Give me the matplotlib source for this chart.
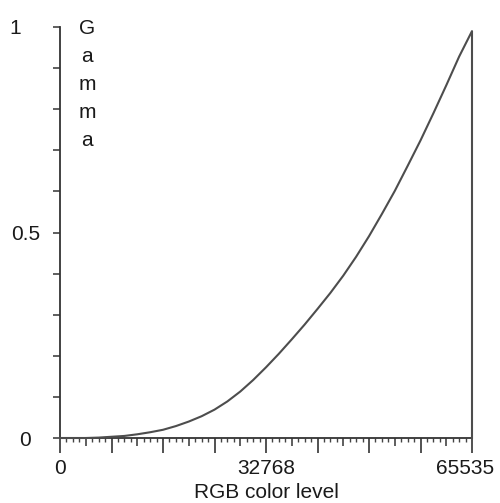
import matplotlib
matplotlib.use('Agg')
import matplotlib.pyplot as plt
from matplotlib.transforms import ScaledTranslation

plt.rcParams['font.family'] = ['Liberation Sans', 'DejaVu Sans']

# RGB level samples (every 2048 levels) and measured gamma response
rgb_levels = [0, 2048, 4096, 6144, 8192, 10240, 12288, 14336, 16384, 18432,
              20480, 22528, 24576, 26624, 28672, 30720, 32768, 34816, 36864,
              38912, 40960, 43008, 45056, 47104, 49152, 51200, 53248, 55296,
              57344, 59392, 61440, 63488, 65535]
gamma_vals = [0.0, 0.0, 0.0, 0.001, 0.003, 0.005, 0.009, 0.014, 0.020, 0.029,
              0.040, 0.053, 0.069, 0.089, 0.113, 0.141, 0.172, 0.205, 0.240,
              0.276, 0.314, 0.353, 0.395, 0.441, 0.491, 0.545, 0.601, 0.662,
              0.724, 0.790, 0.858, 0.928, 0.990]

x_tick_values = [0, 32768, 65535]
x_tick_labels = ['0', '32768', '65535']
y_tick_values = [0, 0.5, 1]
y_tick_labels = ['0', '0.5', '1']
x_label = 'RGB color level'
y_label = 'Gamma'

fig = plt.figure(figsize=(5, 5.03), dpi=100)
ax = fig.add_axes([60/500, 65/503, 412/500, 411/503])

line_col = '#4d4d4d'
ax.plot(rgb_levels + [rgb_levels[-1]], gamma_vals + [0.0],
        color=line_col, lw=1.5, clip_on=False, zorder=3)

ax.set_xlim(0, 65535)
ax.set_ylim(0, 1)
for s in ('top', 'right'):
    ax.spines[s].set_visible(False)
for s in ('left', 'bottom'):
    ax.spines[s].set_color('#333333')
    ax.spines[s].set_linewidth(1.3)

# x ticks: long every 8192, medium every 4096 (secondary), tiny every 1024
long_ticks = list(range(0, 65536, 8192)) + [65535]
long_labels = [x_tick_labels[x_tick_values.index(t)] if t in x_tick_values else '' for t in long_ticks]
ax.set_xticks(long_ticks)
ax.set_xticklabels(long_labels)
ax.set_xticks([t for t in range(1024, 65535, 1024) if t % 4096 != 0], minor=True)
ax.tick_params(axis='x', which='major', length=11, width=1.2, color='#333333',
               pad=4, labelsize=15, labelcolor='#1a1a1a')
ax.tick_params(axis='x', which='minor', length=3, width=1.0, color='#444444')

sec = ax.secondary_xaxis('bottom')
sec.set_xticks([t for t in range(4096, 65535, 8192)])
sec.set_xticklabels([])
sec.tick_params(axis='x', length=6, width=1.1, color='#333333')
sec.spines['bottom'].set_visible(False)

ax.set_yticks(y_tick_values)
ax.set_yticklabels(y_tick_labels)
ax.set_yticks([0.1, 0.2, 0.3, 0.4, 0.6, 0.7, 0.8, 0.9], minor=True)
ax.tick_params(axis='y', which='both', length=5, width=1.1, color='#333333')
ax.tick_params(axis='y', which='major', pad=20, labelsize=15, labelcolor='#1a1a1a')
for lab in ax.get_yticklabels():
    lab.set_horizontalalignment('center')

# nudge last x tick label slightly left, as in the reference
last = ax.get_xticklabels()[-1]
last.set_transform(last.get_transform() + ScaledTranslation(-7/100, 0, fig.dpi_scale_trans))
# nudge "1" label left
top = ax.get_yticklabels()[-1]
top.set_transform(top.get_transform() + ScaledTranslation(-10/100, 0, fig.dpi_scale_trans))

ax.set_xlabel(x_label, fontsize=15, color='#1a1a1a', labelpad=4)

fig.text(87/500, 1 - 19/503, '\n'.join(y_label), ha='center', va='top',
         fontsize=15, color='#1a1a1a', linespacing=1.6)

fig.savefig('out.png', dpi=100)
